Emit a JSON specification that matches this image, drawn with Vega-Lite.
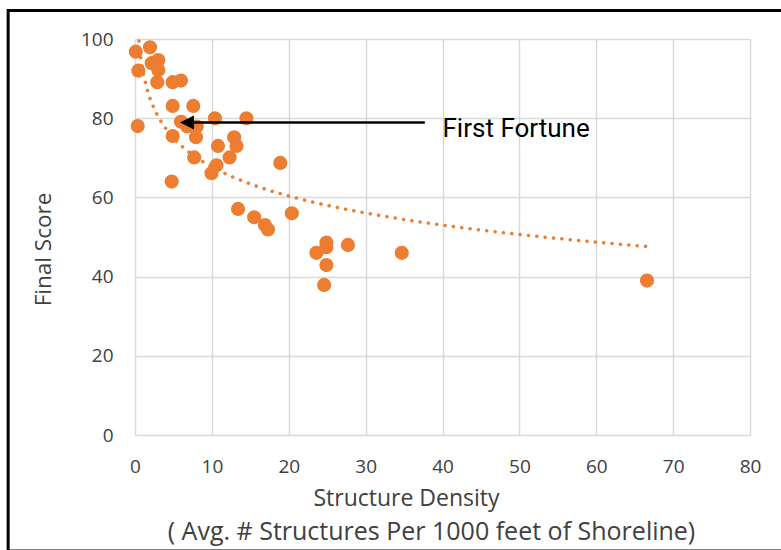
{
  "$schema": "https://vega.github.io/schema/vega-lite/v6.json",
  "width": 615,
  "height": 396,
  "autosize": {"type": "none"},
  "padding": {"left": 135, "top": 39, "right": 31, "bottom": 115},
  "background": "#ffffff",
  "title": {
    "text": "( Avg. # Structures Per 1000 feet of Shoreline)",
    "orient": "bottom",
    "anchor": "middle",
    "font": "Open Sans",
    "fontSize": 25,
    "fontWeight": "normal",
    "color": "#404040",
    "offset": -33,
    "dx": -11
  },
  "config": {
    "view": {"stroke": null},
    "axis": {
      "labelFont": "Open Sans",
      "titleFont": "Open Sans",
      "labelColor": "#404040",
      "titleColor": "#404040",
      "labelFontSize": 19,
      "titleFontSize": 23,
      "titleFontWeight": "normal",
      "gridColor": "#d9d9d9",
      "gridWidth": 1.5,
      "domain": false,
      "ticks": false
    }
  },
  "datasets": {
    "points": [
      {"density": 0.1, "score": 96.8},
      {"density": 1.95, "score": 97.9},
      {"density": 0.43, "score": 92.0},
      {"density": 2.17, "score": 93.9},
      {"density": 3.03, "score": 94.7},
      {"density": 3.03, "score": 92.2},
      {"density": 2.9, "score": 89.1},
      {"density": 4.9, "score": 89.1},
      {"density": 5.98, "score": 89.5},
      {"density": 4.9, "score": 83.1},
      {"density": 7.58, "score": 83.1},
      {"density": 0.35, "score": 78.0},
      {"density": 10.4, "score": 80.0},
      {"density": 14.5, "score": 80.0},
      {"density": 5.98, "score": 79.1},
      {"density": 6.8, "score": 77.9},
      {"density": 8.03, "score": 77.9},
      {"density": 4.9, "score": 75.5},
      {"density": 7.93, "score": 75.2},
      {"density": 12.9, "score": 75.2},
      {"density": 10.8, "score": 73.0},
      {"density": 13.2, "score": 73.0},
      {"density": 7.7, "score": 70.1},
      {"density": 12.3, "score": 70.1},
      {"density": 10.6, "score": 68.1},
      {"density": 9.95, "score": 66.1},
      {"density": 18.9, "score": 68.7},
      {"density": 4.77, "score": 64.0},
      {"density": 13.4, "score": 57.1},
      {"density": 15.5, "score": 55.0},
      {"density": 16.9, "score": 53.0},
      {"density": 17.3, "score": 51.9},
      {"density": 20.4, "score": 56.0},
      {"density": 24.9, "score": 48.6},
      {"density": 24.9, "score": 47.4},
      {"density": 23.6, "score": 46.0},
      {"density": 27.7, "score": 48.0},
      {"density": 24.9, "score": 42.9},
      {"density": 24.6, "score": 37.9},
      {"density": 34.7, "score": 46.0},
      {"density": 66.6, "score": 39.0}
    ],
    "arrow": [
      {"x_head": 6.76, "x_tail": 37.7, "y": 78.9}
    ],
    "label": [
      {"x": 40.0, "y": 75.3, "text": "First Fortune"}
    ]
  },
  "layer": [
    {
      "data": {"name": "points"},
      "mark": {"type": "point", "filled": true, "shape": "circle", "size": 200, "color": "#ED7D31", "opacity": 1},
      "encoding": {
        "x": {
          "field": "density", "type": "quantitative",
          "scale": {"domain": [0, 80], "nice": false},
          "axis": {"values": [0, 10, 20, 30, 40, 50, 60, 70, 80], "labelPadding": 22, "title": "Structure Density", "titlePadding": 11, "titleX": 271, "titleAnchor": "middle", "labelFlush": false}
        },
        "y": {
          "field": "score", "type": "quantitative",
          "scale": {"domain": [0, 100], "nice": false},
          "axis": {"values": [0, 20, 40, 60, 80, 100], "labelPadding": 22, "title": "Final Score", "titlePadding": 25, "titleY": 210, "titleAnchor": "middle", "titleFontSize": 22.5, "labelFlush": false}
        }
      }
    },
    {
      "data": {"name": "points"},
      "transform": [{"regression": "score", "on": "density", "method": "log"}],
      "mark": {"type": "line", "color": "#ED7D31", "strokeWidth": 3.5, "strokeDash": [0.1, 8.3], "strokeCap": "round", "clip": true},
      "encoding": {
        "x": {"field": "density", "type": "quantitative"},
        "y": {"field": "score", "type": "quantitative"}
      }
    },
    {
      "data": {"name": "arrow"},
      "mark": {"type": "rule", "color": "#000000", "strokeWidth": 2.5},
      "encoding": {
        "x": {"field": "x_head", "type": "quantitative"},
        "x2": {"field": "x_tail"},
        "y": {"field": "y", "type": "quantitative"}
      }
    },
    {
      "data": {"name": "arrow"},
      "mark": {"type": "point", "shape": "M-1,0L1,-1L1,1Z", "filled": true, "size": 196, "color": "#000000", "opacity": 1},
      "encoding": {
        "x": {"field": "x_head", "type": "quantitative"},
        "y": {"field": "y", "type": "quantitative"}
      }
    },
    {
      "data": {"name": "label"},
      "mark": {"type": "text", "font": "Roboto", "fontSize": 26, "align": "left", "baseline": "alphabetic", "color": "#000000"},
      "encoding": {
        "x": {"field": "x", "type": "quantitative"},
        "y": {"field": "y", "type": "quantitative"},
        "text": {"field": "text"}
      }
    },
    {
      "data": {"values": [{}]},
      "mark": {"type": "rect", "fill": null, "stroke": "#000000", "strokeWidth": 3, "clip": false},
      "encoding": {
        "x": {"datum": -16.5},
        "x2": {"datum": 90},
        "y": {"datum": 107.2},
        "y2": {"datum": -29.3}
      }
    }
  ]
}
